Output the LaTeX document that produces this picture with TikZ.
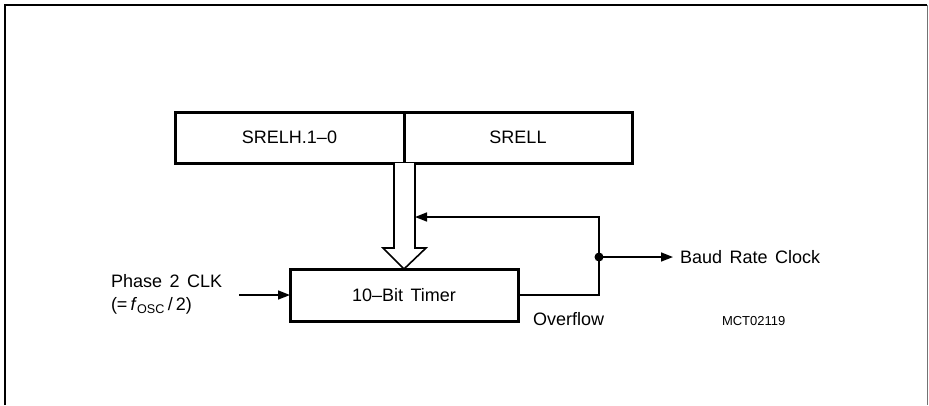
\documentclass[tikz,border=0pt]{standalone}
\usepackage{fontspec}
\setmainfont{Liberation Sans}[WordSpace=1.5]
\usetikzlibrary{arrows.meta,positioning,calc}
\tikzset{
  regbox/.style={draw,line width=3pt,minimum height=51pt,inner sep=0pt,
    outer sep=0pt,align=center},
  wire/.style={line width=1.6pt},
  arrow/.style={wire,-{Triangle[length=12pt,width=9pt]}},
  hollow/.style={line width=1.6pt,fill=white,line join=miter},
  label/.style={inner sep=0pt,outer sep=0pt}
}

\begin{document}
\begin{tikzpicture}[
  x=1pt,
  y=-1pt,
  font=\fontsize{18}{23}\selectfont
]
\useasboundingbox (0,0) rectangle (929,405);

% Frame
\draw[line width=2pt] (5,405) -- (5,5) -- (927,5);
\draw[line width=1pt,black!55] (927,5) -- (927,405);

% Reload register
\node[regbox,minimum width=229pt] (srelh) at (289.5,137.5) {SRELH.1--0};
\node[regbox,minimum width=228pt,right=0pt of srelh] (srell) {SRELL};

% Timer
\node[regbox,minimum width=228pt,minimum height=52pt] (timer) at (404,295)
  {10--Bit Timer};

% Reload path
\draw[hollow] ($(srelh.south east)+(-10,0)$) |- ($(timer.north)+(-21,-21)$)
  -- (timer.north) -- ($(timer.north)+(22,-21)$) -| ($(srelh.south east)+(11,0)$);
\coordinate (stemr) at ($(srelh.south east)+(11,0)$);

% Clock input
\node[label,align=left,anchor=west] (clk) at (111,294)
  {Phase 2 CLK\\(=\,\textit{f}\textsubscript{OSC}\,/\,2)};
\draw[arrow,shorten <=17pt] (clk.east |- timer.west) -- (timer.west);

% Overflow and feedback
\coordinate (fbtop) at (599,217);
\coordinate (jn) at (599,257);
\draw[arrow] (timer.east) -| (fbtop) -- (stemr |- fbtop);
\fill (jn) circle (4.5pt);
\node[label,anchor=west] (baud) at (680,257) {Baud Rate Clock};
\draw[arrow,shorten >=7pt] (jn) -- (baud.west);
\node[label,anchor=base west] (ovf) at (533,325) {Overflow};
\node[label,anchor=base west,font=\fontsize{13}{15}\selectfont] (code)
  at (722,325) {MCT02119};

\end{tikzpicture}
\end{document}
